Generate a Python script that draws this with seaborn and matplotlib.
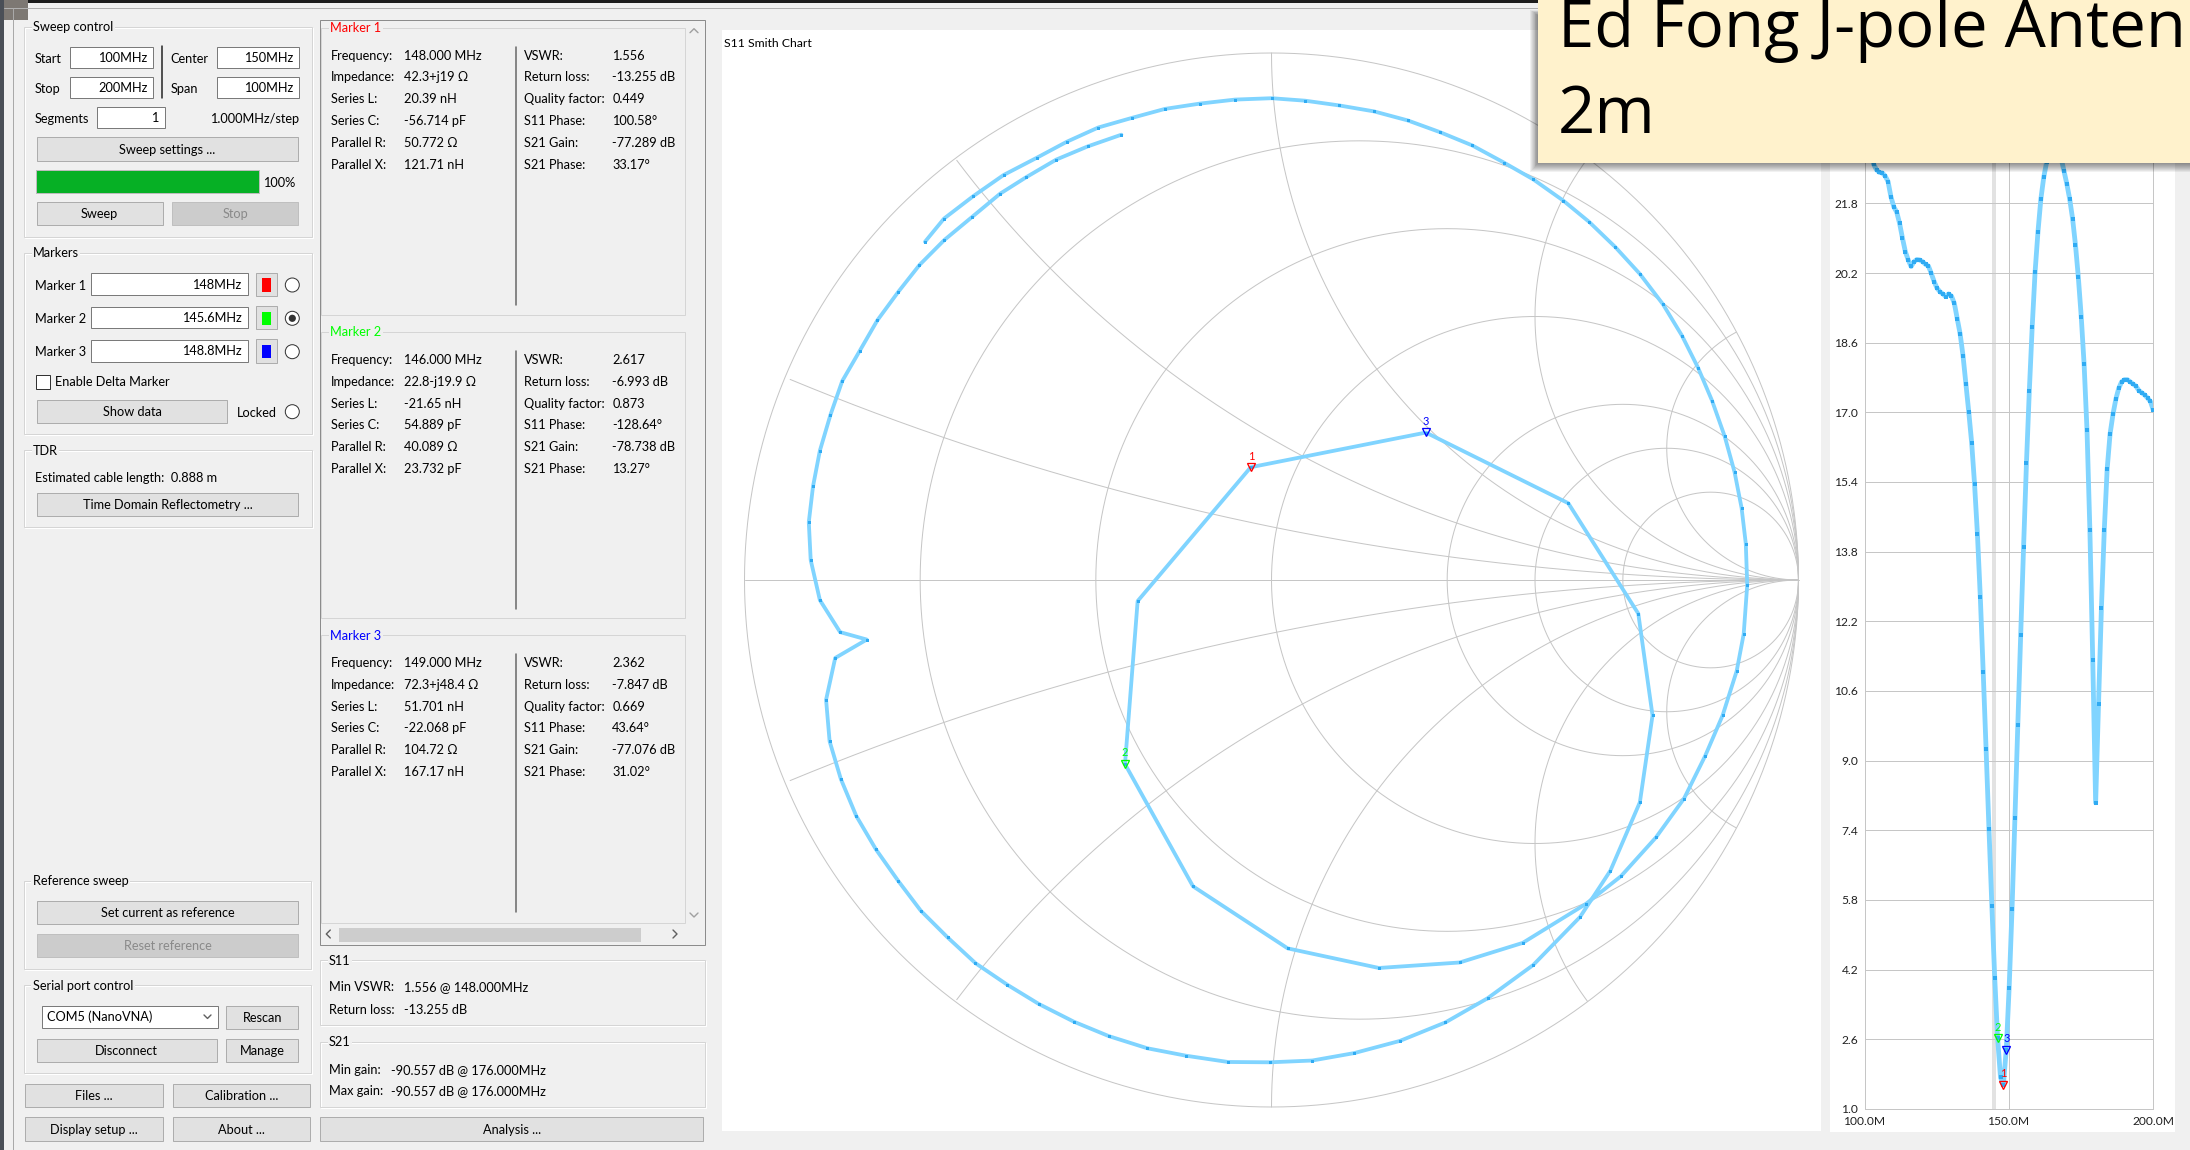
import numpy as np
import matplotlib
matplotlib.use("Agg")
import matplotlib.pyplot as plt
from matplotlib.patches import Rectangle, Circle
import seaborn as sns

# ===== canvas / style =====
W, H = 2190, 1150
DPI = 100
PT = 72 / DPI                      # points per pixel

UI_FONT = ["Lato", "DejaVu Sans"]
TITLE_FONT = ["Open Sans", "DejaVu Sans"]
UI_SIZE = 12.8 * PT                # control-panel text
TICK_SIZE = 12.0 * PT              # chart tick labels
BG = "#f0f0f0"
TRACE = "#80d4ff"
TRACE_DOT = "#30abf3"
GRID = "#c6c6c6"

# ===== data: sweep =====
sweep_freq_mhz = list(range(100, 201))          # 100 MHz .. 200 MHz, 1.000 MHz/step
vswr = [23.7, 23.3, 22.95, 22.7, 22.57, 22.51, 22.5, 22.43, 22.3, 21.95,
        21.72, 21.6, 21.34, 21.0, 20.69, 20.5, 20.35, 20.46, 20.51, 20.5,
        20.46, 20.4, 20.36, 20.19, 20.0, 19.85, 19.77, 19.72, 19.66, 19.72,
        19.67, 19.5, 19.15, 18.8, 18.3, 17.65, 17.0, 16.3, 15.35, 14.2,
        12.75, 11.03, 9.26, 7.43, 5.67, 4.0, 2.617, 1.72, 1.556, 2.362,
        3.78, 5.59, 7.67, 9.81, 11.88, 13.9, 15.83, 17.5, 18.97, 20.23,
        21.15, 21.9, 22.4, 22.75, 23.0, 23.15, 23.2, 23.1, 22.85, 22.55,
        22.25, 21.9, 21.45, 20.85, 20.1, 19.2, 18.1, 16.6, 14.3, 11.3,
        8.03, 10.3, 12.5, 14.3, 15.7, 16.5, 16.95, 17.3, 17.55, 17.7,
        17.75, 17.75, 17.7, 17.65, 17.6, 17.5, 17.45, 17.4, 17.33, 17.25,
        17.05]

# S11 reflection coefficient, in sweep order (real / imaginary part)
smith_re = [-0.6575, -0.6214, -0.5657, -0.5083, -0.4457, -0.3886, -0.3287, -0.2647, -0.2023, -0.1357,
            -0.0691, 0.0002, 0.0639, 0.1279, 0.1945, 0.2584, 0.3195, 0.3808, 0.4408, 0.4966,
            0.5539, 0.6032, 0.6524, 0.6990, 0.7429, 0.7789, 0.8095, 0.8360, 0.8600, 0.8787,
            0.8920, 0.9000, 0.9027, 0.8960, 0.8827, 0.8560, 0.8228, 0.7827, 0.7296, 0.6630,
            0.5964, 0.4767, 0.3570, 0.2038, 0.0307, -0.1490, -0.2780, -0.2540, -0.0394, 0.2930,
            0.5632, 0.6960, 0.7230, 0.6990, 0.6430, 0.5854, 0.4966, 0.4100, 0.3300, 0.2436,
            0.1570, 0.0774, -0.0025, -0.0824, -0.1622, -0.2355, -0.3087, -0.3753, -0.4417, -0.5017,
            -0.5617, -0.6148, -0.6655, -0.7080, -0.7507, -0.7879, -0.8172, -0.8385, -0.8452, -0.8279,
            -0.7680, -0.8186, -0.8570, -0.8744, -0.8780, -0.8700, -0.8570, -0.8370, -0.8146, -0.7812,
            -0.7480, -0.7080, -0.6680, -0.6210, -0.5680, -0.5150, -0.4660, -0.4085, -0.3486, -0.2848]
smith_im = [0.6418, 0.6858, 0.7285, 0.7685, 0.8010, 0.8315, 0.8586, 0.8769, 0.8939, 0.9040,
            0.9116, 0.9142, 0.9095, 0.9006, 0.8892, 0.8721, 0.8499, 0.8247, 0.7922, 0.7603,
            0.7197, 0.6791, 0.6317, 0.5808, 0.5231, 0.4636, 0.4025, 0.3402, 0.2725, 0.2047,
            0.1368, 0.0691, -0.0095, -0.1025, -0.1727, -0.2570, -0.3340, -0.4148, -0.4884, -0.5622,
            -0.6148, -0.6886, -0.7258, -0.7362, -0.6990, -0.5812, -0.3494, -0.0400, 0.2140, 0.2798,
            0.1457, -0.0638, -0.2570, -0.4218, -0.5516, -0.6395, -0.7306, -0.7937, -0.8395, -0.8746,
            -0.8977, -0.9118, -0.9152, -0.9146, -0.9027, -0.8886, -0.8655, -0.8380, -0.8044, -0.7678,
            -0.7271, -0.6780, -0.6275, -0.5714, -0.5110, -0.4478, -0.3776, -0.3060, -0.2273, -0.1480,
            -0.1130, -0.0989, -0.0380, 0.0380, 0.1098, 0.1776, 0.2453, 0.3130, 0.3774, 0.4351,
            0.4926, 0.5470, 0.5977, 0.6450, 0.6890, 0.7330, 0.7640, 0.7977, 0.8228, 0.8450]

marker_names = ["1", "2", "3"]
marker_freq_mhz = [148.0, 146.0, 149.0]
marker_vswr = [1.556, 2.617, 2.362]
marker_gamma_re = [-0.039, -0.278, 0.293]
marker_gamma_im = [0.214, -0.349, 0.280]
marker_colors = ["#ff0000", "#00ff00", "#0000ff"]
marker_entry = ["148MHz", "145.6MHz", "148.8MHz"]

vswr_ticks = [1.0, 2.6, 4.2, 5.8, 7.4, 9.0, 10.6, 12.2, 13.8, 15.4, 17.0, 18.6, 20.2, 21.8, 23.4]
freq_ticks = [100, 150, 200]
freq_tick_labels = ["100.0M", "150.0M", "200.0M"]
selected_band_mhz = (143.9, 145.6)

smith_r_circles = [0.2, 0.5, 1, 2, 3, 5]
smith_x_arcs = [0.2, 0.5, 1, 2, 4]

# ===== marker read-outs =====
left_labels = ["Frequency:", "Impedance:", "Series L:", "Series C:", "Parallel R:", "Parallel X:"]
right_labels = ["VSWR:", "Return loss:", "Quality factor:", "S11 Phase:", "S21 Gain:", "S21 Phase:"]
m1_left = ["148.000 MHz", "42.3+j19 \u03a9", "20.39 nH", "-56.714 pF", "50.772 \u03a9", "121.71 nH"]
m1_right = ["1.556", "-13.255 dB", "0.449", "100.58\u00b0", "-77.289 dB", "33.17\u00b0"]
m2_left = ["146.000 MHz", "22.8-j19.9 \u03a9", "-21.65 nH", "54.889 pF", "40.089 \u03a9", "23.732 pF"]
m2_right = ["2.617", "-6.993 dB", "0.873", "-128.64\u00b0", "-78.738 dB", "13.27\u00b0"]
m3_left = ["149.000 MHz", "72.3+j48.4 \u03a9", "51.701 nH", "-22.068 pF", "104.72 \u03a9", "167.17 nH"]
m3_right = ["2.362", "-7.847 dB", "0.669", "43.64\u00b0", "-77.076 dB", "31.02\u00b0"]

sns.set_style("white")
plt.rcParams["font.family"] = UI_FONT

fig = plt.figure(figsize=(W / DPI, H / DPI), dpi=DPI, facecolor=BG)
ui = fig.add_axes([0, 0, 1, 1], zorder=0)
ui.set_xlim(0, W)
ui.set_ylim(H, 0)
ui.axis("off")


def box(x0, y0, x1, y1, fc, ec="none", lw=1.0, z=1, ax=None):
    (ax or ui).add_patch(Rectangle((x0, y0), x1 - x0, y1 - y0, facecolor=fc,
                                   edgecolor=ec, linewidth=lw * PT, zorder=z))


def txt(x, yc, s, color="#000000", ha="left", size=UI_SIZE, ax=None, **kw):
    (ax or ui).text(x, yc + 0.36 * size / PT, s, color=color, ha=ha, va="baseline",
                    fontsize=size, family=UI_FONT, zorder=5, **kw)


def button(x0, y0, x1, y1, s, enabled=True):
    box(x0, y0, x1, y1, "#e1e1e1" if enabled else "#cccccc", "#adadad" if enabled else "#bfbfbf")
    txt((x0 + x1) / 2, (y0 + y1) / 2, s, color="#000000" if enabled else "#8a8a8a", ha="center")


def field(x0, y0, x1, y1, s):
    box(x0, y0, x1, y1, "white", "#7a7a7a")
    txt(x1 - 6, (y0 + y1) / 2, s, ha="right")


def group(x0, y0, x1, y1, title, color="#000000"):
    box(x0 + 1, y0 + 1, x1 + 1, y1 + 1, "none", "#ffffff", z=0.9)
    box(x0, y0, x1, y1, "none", "#d5d5d5", z=1)
    txt(x0 + 9, y0, title, color=color,
        bbox=dict(facecolor=BG, edgecolor="none", pad=1.0))


def radio(cx, cy, on=False):
    ui.add_patch(Circle((cx, cy), 7.0, facecolor="white", edgecolor="#333333", linewidth=PT, zorder=3))
    if on:
        ui.add_patch(Circle((cx, cy), 3.6, facecolor="#333333", edgecolor="none", zorder=4))


def chevron(cx, cy, direction, s=4.0, color="#606060"):
    if direction == "down":
        xs, ys = [cx - s, cx, cx + s], [cy - s / 2, cy + s / 2, cy - s / 2]
    elif direction == "up":
        xs, ys = [cx - s, cx, cx + s], [cy + s / 2, cy - s / 2, cy + s / 2]
    elif direction == "left":
        xs, ys = [cx + s / 2, cx - s / 2, cx + s / 2], [cy - s, cy, cy + s]
    else:
        xs, ys = [cx - s / 2, cx + s / 2, cx - s / 2], [cy - s, cy, cy + s]
    ui.plot(xs, ys, color=color, lw=1.4 * PT, zorder=4)


# ----- window edges -----
box(0, 0, W, 2.7, "#1c1c1c")
box(0, 0, 28, 20, "#7d7873")
box(0, 0, 3.8, H, "#4a4f57")
ui.plot([3.8, W], [7.5, 7.5], color="#b0b0b0", lw=PT)
ui.plot([12.8, 12.8], [7.5, H], color="#a9a9a9", lw=PT)

# ----- sweep control -----
group(24, 26.7, 311.7, 236.7, "Sweep control")
txt(35, 58, "Start")
field(70, 46.7, 153.3, 68.3, "100MHz")
txt(170.7, 58, "Center")
field(216.7, 46.7, 299.3, 68.3, "150MHz")
ui.plot([162.3, 162.3], [46, 98], color="#202020", lw=1.5 * PT)
txt(35, 88.3, "Stop")
field(70, 76.7, 153.3, 98.3, "200MHz")
txt(170.7, 88.3, "Span")
field(216.7, 76.7, 299.3, 98.3, "100MHz")
txt(35, 118.3, "Segments")
field(96.7, 106.7, 164.7, 128.3, "1")
txt(299.3, 118.3, "1.000MHz/step", ha="right")
button(36.7, 137.3, 298.3, 160.7, "Sweep settings ...")
box(35.7, 170, 259.3, 192.7, "#06b025", "#bcbcbc")
txt(262.7, 182, "100%")
button(36.7, 201.7, 162.7, 225, "Sweep")
button(172.3, 201.7, 298.3, 225, "Stop", enabled=False)

# ----- markers -----
group(24, 252.7, 311.7, 434, "Markers")
for i, yc in enumerate([285, 318.3, 351.7]):
    txt(35, yc, f"Marker {i + 1}")
    field(91, yc - 11.7, 247.7, yc + 10, marker_entry[i])
    box(256, yc - 12.3, 276.7, yc + 11, "#e1e1e1", "#adadad")
    box(261.7, yc - 6.7, 270.7, yc + 6.7, marker_colors[i])
    radio(292.3, yc, on=(i == 1))
box(35.7, 375, 50, 389, "white", "#333333")
txt(55, 381.7, "Enable Delta Marker")
button(36.7, 400, 227.3, 423.3, "Show data")
txt(276.7, 412.3, "Locked", ha="right")
radio(292.3, 411.7)

# ----- TDR -----
group(24, 450, 311.7, 527.3, "TDR")
txt(35, 477.7, "Estimated cable length:  0.888 m")
button(36.7, 493.3, 298.3, 516, "Time Domain Reflectometry ...")

# ----- reference / serial / bottom buttons -----
group(23.9, 880.7, 310.8, 969, "Reference sweep")
button(36.7, 901, 298.4, 924, "Set current as reference")
button(36.7, 934.3, 298.4, 957.3, "Reset reference", enabled=False)
group(23.9, 985, 310.8, 1073.3, "Serial port control")
box(42.2, 1005.7, 217.6, 1027.7, "white", "#7a7a7a")
txt(47, 1016.7, "COM5 (NanoVNA)")
chevron(207.5, 1016.7, "down", s=3.5)
button(226.4, 1005.7, 298.4, 1029, "Rescan")
button(36.7, 1039.3, 216.7, 1062.3, "Disconnect")
button(226.4, 1039.3, 298.4, 1062.3, "Manage")
button(25.3, 1084, 162.5, 1107.3, "Files ...")
button(172.6, 1084, 310, 1107.3, "Calibration ...")
button(25.3, 1117.3, 162.5, 1140.7, "Display setup ...")
button(172.6, 1117.3, 310, 1140.7, "About ...")
button(320, 1117.3, 703.4, 1140.7, "Analysis ...")

# ----- marker read-out scroll area -----
box(319.7, 20, 704.7, 945, BG, "#8c8c8c")
chevron(694, 30.7, "up", s=4, color="#a0a0a0")
chevron(694, 915, "down", s=4, color="#a0a0a0")
box(338.8, 927.5, 641.4, 941.5, "#cdcdcd")
chevron(328.3, 934, "left", s=4)
chevron(675, 934, "right", s=4)
panels = [(27.7, 315, 55, m1_left, m1_right),
          (331.7, 618.3, 359.3, m2_left, m2_right),
          (635, 923.3, 662.3, m3_left, m3_right)]
for k, (gy0, gy1, y0, lv, rv) in enumerate(panels):
    group(321, gy0, 684.7, gy1, f"Marker {k + 1}", color=marker_colors[k])
    for r in range(6):
        y = y0 + r * 21.8
        txt(330.7, y, left_labels[r])
        txt(404, y, lv[r])
        txt(524, y, right_labels[r])
        txt(612.3, y, rv[r])
    ui.plot([516, 516], [y0 - 8.3, y0 + 250], color="#6d6d6d", lw=1.6 * PT, zorder=3)

# ----- S11 / S21 summaries -----
group(320, 960, 704.8, 1025, "S11")
txt(329.2, 986.7, "Min VSWR:")
txt(404, 986.7, "1.556 @ 148.000MHz")
txt(329.2, 1009, "Return loss:")
txt(404, 1009, "-13.255 dB")
group(320, 1041.7, 704.8, 1106.7, "S21")
txt(329.2, 1069, "Min gain:")
txt(391.2, 1069, "-90.557 dB @ 176.000MHz")
txt(329.2, 1090.7, "Max gain:")
txt(391.2, 1090.7, "-90.557 dB @ 176.000MHz")

# ----- chart widget backgrounds -----
box(1830, 30, 2175, 1131.6, "white")

# ===== Smith chart =====
sx0, sy0, sx1, sy1 = 721.7, 30, 1821, 1131
CX, CY, R = 1271.5, 580, 527
ax_s = fig.add_axes([sx0 / W, 1 - sy1 / H, (sx1 - sx0) / W, (sy1 - sy0) / H], zorder=2)
ax_s.set_xlim((sx0 - CX) / R, (sx1 - CX) / R)
ax_s.set_ylim((CY - sy1) / R, (CY - sy0) / R)
ax_s.set_facecolor("white")
ax_s.set_xticks([])
ax_s.set_yticks([])
for sp in ax_s.spines.values():
    sp.set_visible(False)

t = np.linspace(0, 2 * np.pi, 1441)
ax_s.plot(np.cos(t), np.sin(t), color=GRID, lw=PT, zorder=1)
ax_s.plot([-1, 1], [0, 0], color=GRID, lw=PT, zorder=1)
for r in smith_r_circles:
    c, rad = r / (1 + r), 1 / (1 + r)
    ax_s.plot(c + rad * np.cos(t), rad * np.sin(t), color=GRID, lw=PT, zorder=1)
for xr in smith_x_arcs:
    for sgn in (1, -1):
        rad = 1 / xr
        xs = 1 + rad * np.cos(t)
        ys = sgn * rad + rad * np.sin(t)
        inside = xs ** 2 + ys ** 2 <= 1 + 1e-9
        ax_s.plot(np.where(inside, xs, np.nan), np.where(inside, ys, np.nan),
                  color=GRID, lw=PT, zorder=1)

sns.lineplot(x=smith_re, y=smith_im, sort=False, estimator=None, color=TRACE,
             lw=3.8 * PT, ax=ax_s, legend=False, zorder=3)
sns.scatterplot(x=smith_re, y=smith_im, marker="s", s=(3.0 * PT) ** 2, color=TRACE_DOT,
                linewidth=0, ax=ax_s, legend=False, zorder=4)
for name, gr, gi, col in zip(marker_names, marker_gamma_re, marker_gamma_im, marker_colors):
    ax_s.plot(gr, gi, marker="v", ms=7.5 * PT, mfc="none", mec=col, mew=1.3 * PT, zorder=6)
    ax_s.annotate(name, (gr, gi), xytext=(0, 11 * PT), textcoords="offset points",
                  ha="center", va="center", color=col, fontsize=11 * PT, family=UI_FONT, zorder=6)
ax_s.set_xlabel("")
ax_s.set_ylabel("")

# ===== VSWR chart =====
vx0, vx1 = 1865.0, 2153.3
vy_bot, vy_top = 1108.8, 116.0
px_per_v = 43.53
ax_v = fig.add_axes([vx0 / W, 1 - vy_bot / H, (vx1 - vx0) / W, (vy_bot - vy_top) / H], zorder=2)
ax_v.set_xlim(100, 200)
ax_v.set_ylim(1.0, 1.0 + (vy_bot - vy_top) / px_per_v)
ax_v.patch.set_alpha(0)
for sp in ax_v.spines.values():
    sp.set_visible(False)
ax_v.axvspan(*selected_band_mhz, color="#e2e2e2", lw=0, zorder=0)
for v in vswr_ticks:
    ax_v.axhline(v, color=GRID, lw=PT, clip_on=False, zorder=1)
for f in freq_ticks:
    ax_v.axvline(f, color=GRID, lw=PT, clip_on=False, zorder=1)

sns.lineplot(x=sweep_freq_mhz, y=vswr, color=TRACE, lw=4.8 * PT, ax=ax_v, legend=False, zorder=3)
sns.scatterplot(x=sweep_freq_mhz, y=vswr, marker="s", s=(3.8 * PT) ** 2, color=TRACE_DOT,
                linewidth=0, ax=ax_v, legend=False, zorder=4)
for name, f, v, col in zip(marker_names, marker_freq_mhz, marker_vswr, marker_colors):
    ax_v.plot(f, v, marker="v", ms=7.5 * PT, mfc="none", mec=col, mew=1.3 * PT, zorder=6)
    ax_v.annotate(name, (f, v), xytext=(0, 11 * PT), textcoords="offset points",
                  ha="center", va="center", color=col, fontsize=11 * PT, family=UI_FONT, zorder=6)

ax_v.set_xticks(freq_ticks)
ax_v.set_xticklabels(freq_tick_labels)
ax_v.set_yticks(vswr_ticks)
ax_v.set_yticklabels([f"{v:.1f}" for v in vswr_ticks])
ax_v.tick_params(axis="both", length=0, labelsize=TICK_SIZE, colors="#202020")
ax_v.tick_params(axis="y", pad=6.5 * PT)
ax_v.tick_params(axis="x", pad=7.5 * PT)
ax_v.set_xlabel("")
ax_v.set_ylabel("")

# ===== overlay: chart caption + slide title box =====
top = fig.add_axes([0, 0, 1, 1], zorder=10)
top.set_xlim(0, W)
top.set_ylim(H, 0)
top.axis("off")
top.text(724, 42.7 + 0.36 * 12.2, "S11 Smith Chart", fontsize=12.2 * PT, family=UI_FONT,
         va="baseline", color="#000000")
for k in range(9):
    top.add_patch(Rectangle((1530 + k * 0.9, 10 + k * 0.6), W + 20, 163 - 10 + 9 - k * 1.6,
                            facecolor="black", alpha=0.055, edgecolor="none"))
top.add_patch(Rectangle((1538.4, -10), W, 173, facecolor="#fff2cc", edgecolor="none"))
# the slide caption runs past the screenshot's right edge; only the visible part is shown
top.text(1558, 47, "Ed Fong J-pole Anten", fontsize=47, family=TITLE_FONT,
         va="baseline", color="#000000")
top.text(1558, 133, "2m", fontsize=47, family=TITLE_FONT, va="baseline", color="#000000")

fig.savefig("out.png", dpi=DPI, facecolor=BG)
